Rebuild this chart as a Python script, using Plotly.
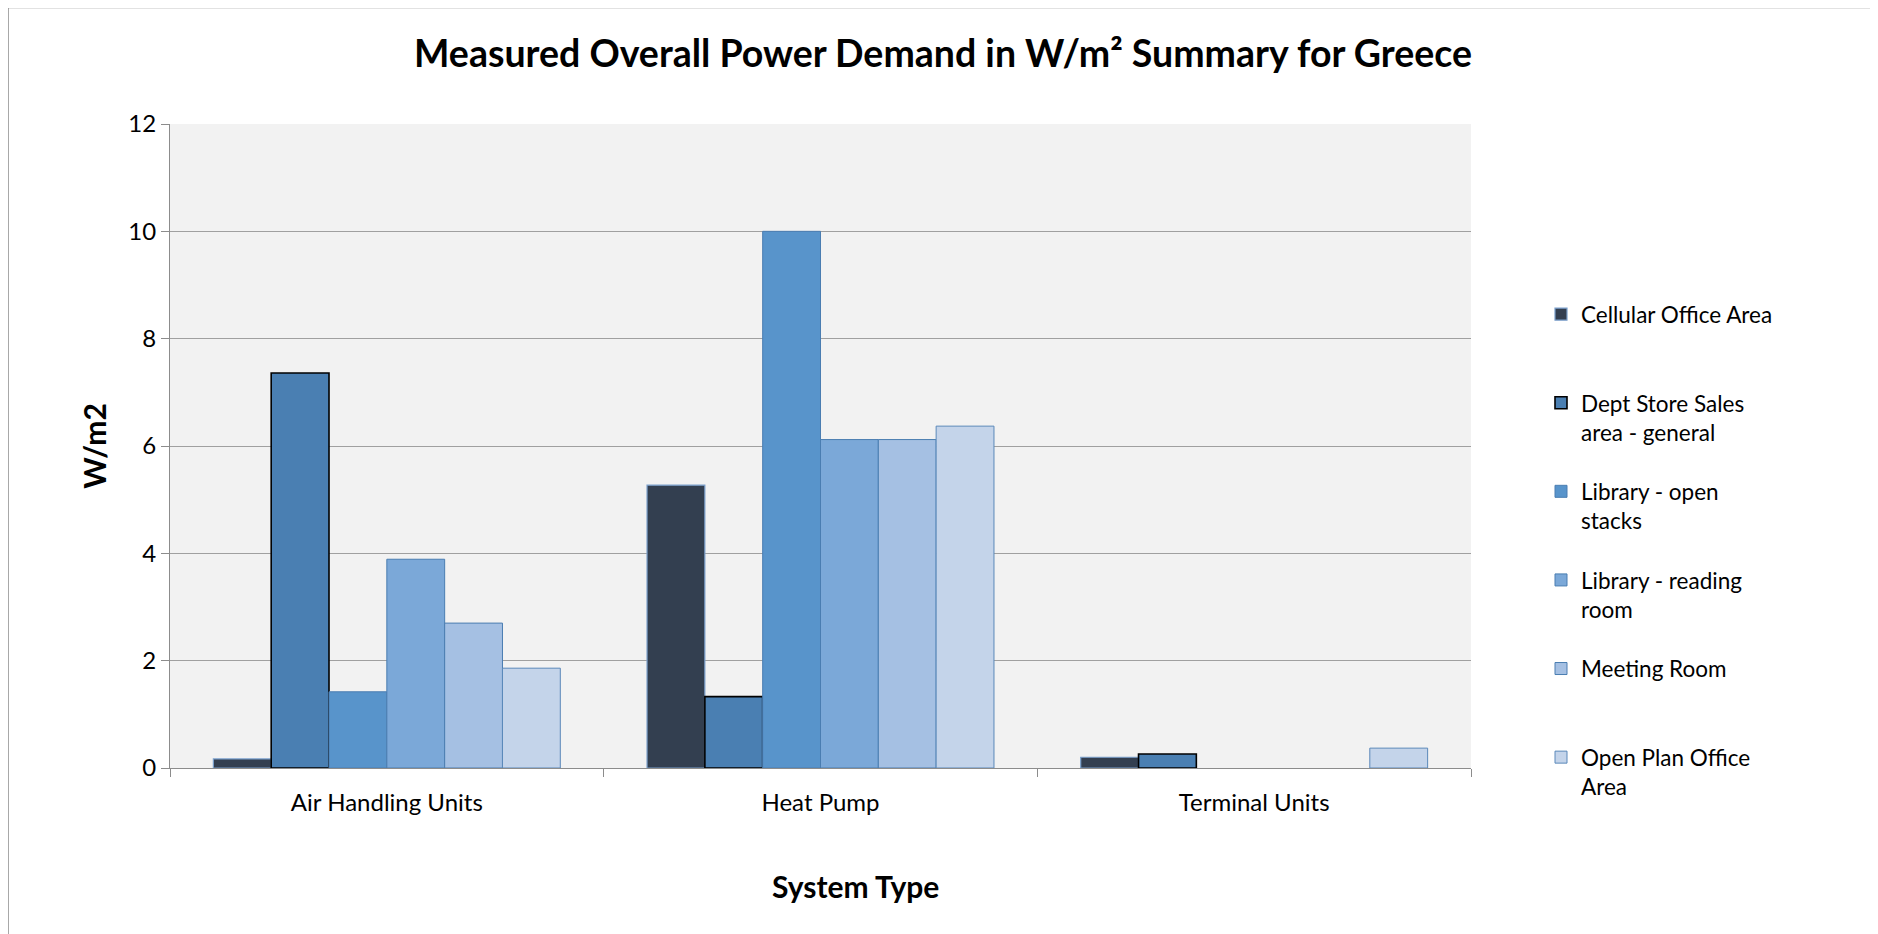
import plotly.graph_objects as go

categories = ["Air Handling Units", "Heat Pump", "Terminal Units"]
series_names = [
    "Cellular Office Area",
    "Dept Store Sales<br>area - general",
    "Library - open<br>stacks",
    "Library - reading<br>room",
    "Meeting Room",
    "Open Plan Office<br>Area",
]
cellular_office = [0.17, 5.27, 0.20]
dept_store = [7.36, 1.33, 0.26]
library_open = [1.42, 10.0, None]
library_reading = [3.89, 6.12, None]
meeting_room = [2.70, 6.12, None]
open_plan = [1.86, 6.37, 0.37]
y_ticks = [0, 2, 4, 6, 8, 10, 12]

values = [cellular_office, dept_store, library_open, library_reading, meeting_room, open_plan]
fills = ["#333F50", "#4A7FB2", "#5894CB", "#7BA8D8", "#A5C0E3", "#C4D4EA"]
borders = ["#7A9FCB", "#000000", "#4A7DB1", "#4A7DB1", "#4A7DB1", "#5A88BA"]
bwidth = [1.2, 1.6, 1.0, 1.0, 1.0, 1.0]

FONT = "Lato"
W, H = 1878, 934
OFF = 8  # page body margin
# plot area in screen (reference) pixels
L, R, T, B = 170, 1471, 124, 768

fig = go.Figure()
for i, (name, vals) in enumerate(zip(series_names, values)):
    label = name if "<br>" in name else name + "<br>\u00a0"
    fig.add_trace(go.Bar(
        x=categories, y=vals, name=label,
        marker=dict(color=fills[i], line=dict(color=borders[i], width=bwidth[i])),
        legendgroup=f"g{i}",
    ))

def px_x(p):
    return (p - L) / (R - L)

def px_y(p):
    return (B - p) / (B - T)

leg_font = 22.5
leg_item = 2 * 1.3 * leg_font + 3

fig.update_layout(
    width=W, height=H,
    margin=dict(l=L - OFF, r=W - R + OFF, t=T - OFF, b=H - B + OFF, autoexpand=False),
    paper_bgcolor="white",
    plot_bgcolor="#F2F2F2",
    barmode="group",
    bargap=0.2,
    bargroupgap=0,
    font=dict(family=FONT, color="#000000"),
    title=dict(
        text="<b>Measured Overall Power Demand in W/m² Summary for Greece</b>",
        x=(943 - OFF) / W, xanchor="center", xref="container",
        y=1 - (53.5 - OFF) / H, yanchor="middle", yref="container",
        font=dict(family=FONT, size=37.5, color="#000000"),
    ),
    xaxis=dict(
        type="category",
        tickson="boundaries",
        ticks="outside", ticklen=8, tickcolor="#8C8C8C", tickwidth=1,
        showline=True, linecolor="#8C8C8C", linewidth=1,
        showgrid=False,
        tickfont=dict(family=FONT, size=24, color="#000000"),
        ticklabelstandoff=13,
    ),
    yaxis=dict(
        range=[0, 12],
        tickvals=y_ticks,
        ticks="outside", ticklen=8, tickcolor="#8C8C8C", tickwidth=1,
        showline=True, linecolor="#8C8C8C", linewidth=1,
        showgrid=True, gridcolor="#A0A0A0", gridwidth=1,
        zeroline=False,
        tickfont=dict(family=FONT, size=24, color="#000000"),
        title=dict(text="<b>W/m2</b>", font=dict(family=FONT, size=30, color="#000000"), standoff=12),
    ),
    legend=dict(
        x=px_x(1541), xanchor="left",
        y=px_y(293), yanchor="top",
        traceorder="grouped",
        tracegroupgap=88.6 - leg_item,
        valign="top",
        font=dict(family=FONT, size=leg_font, color="#000000"),
        bgcolor="rgba(0,0,0,0)",
    ),
    annotations=[
        dict(text="<b>System Type</b>", xref="paper", yref="paper",
             x=px_x(855), y=px_y(886), xanchor="center", yanchor="middle",
             showarrow=False, font=dict(family=FONT, size=30, color="#000000")),
    ],
    shapes=[
        dict(type="rect", xref="paper", yref="paper",
             x0=px_x(8), x1=px_x(1876), y0=px_y(960), y1=px_y(7.5),
             line=dict(color="#8C8C8C", width=1.5), fillcolor="rgba(0,0,0,0)", layer="below"),
    ],
)

fig.write_html("out.html")
